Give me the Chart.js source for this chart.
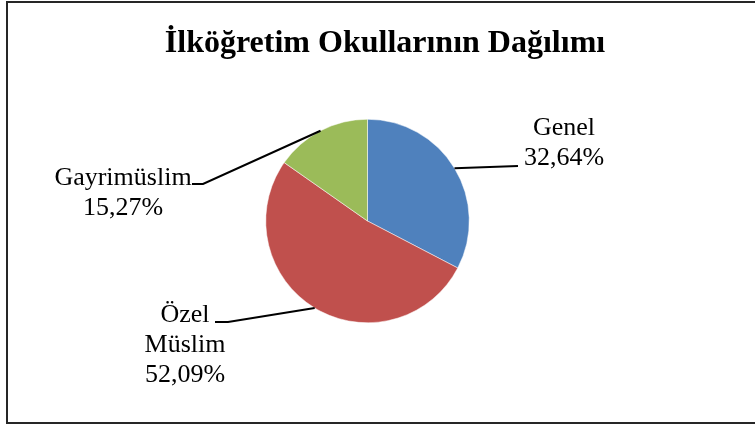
<!DOCTYPE html>
<html>
<head>
<meta charset="utf-8">
<script src="https://cdn.jsdelivr.net/npm/chart.js@4/dist/chart.umd.min.js"></script>
<style>
  body { margin: 0; background: #fff; }
  #wrap { width: 755px; height: 425px; }
</style>
</head>
<body>
<div id="wrap"><canvas id="pieChart" width="755" height="425"></canvas></div>
<script>
const chartTitle = "İlköğretim Okullarının Dağılımı";
const categories = ["Genel", "Özel Müslim", "Gayrimüslim"];
const shares = [32.64, 52.09, 15.27];
const sliceColors = ["#4F81BD", "#C0504D", "#9BBB59"];

// where each data label sits and how its leader line bends
const labelLayout = [
  { x: 564, y: 128, split: false, path: [[518, 166]] },
  { x: 185, y: 315, split: true, path: [[228, 322], [215, 322]] },
  { x: 123, y: 178, split: false, path: [[203, 184], [192, 184]] }
];

const fmtPct = v => v.toFixed(2).replace(".", ",") + "%";

const frameAndLabels = {
  id: "frameAndLabels",
  beforeDraw(chart) {
    const ctx = chart.ctx;
    ctx.save();
    ctx.fillStyle = "#fff";
    ctx.fillRect(0, 0, chart.width, chart.height);
    ctx.strokeStyle = "#262626";
    ctx.lineWidth = 2;
    ctx.strokeRect(7, 2, 760, 421);
    ctx.restore();
  },
  afterDraw(chart) {
    const ctx = chart.ctx;
    ctx.save();
    ctx.fillStyle = "#000";
    ctx.textAlign = "center";
    ctx.textBaseline = "alphabetic";
    ctx.font = "bold 32px 'Liberation Serif', 'Times New Roman', serif";
    ctx.fillText(chartTitle, 385, 52);

    const arcs = chart.getDatasetMeta(0).data;
    ctx.font = "26px 'Liberation Serif', 'Times New Roman', serif";
    ctx.textBaseline = "middle";
    arcs.forEach((arc, i) => {
      const p = arc.getProps(["x", "y", "startAngle", "endAngle", "outerRadius"], true);
      const mid = (p.startAngle + p.endAngle) / 2;
      const sx = p.x + Math.cos(mid) * p.outerRadius;
      const sy = p.y + Math.sin(mid) * p.outerRadius;
      const lay = labelLayout[i];
      ctx.strokeStyle = "#000";
      ctx.lineWidth = 2;
      ctx.beginPath();
      ctx.moveTo(sx, sy);
      lay.path.forEach(pt => ctx.lineTo(pt[0], pt[1]));
      ctx.stroke();
      const lines = lay.split ? categories[i].split(" ") : [categories[i]];
      lines.push(fmtPct(shares[i]));
      lines.forEach((t, k) => ctx.fillText(t, lay.x, lay.y + k * 30));
    });
    ctx.restore();
  }
};

new Chart(document.getElementById("pieChart"), {
  type: "pie",
  data: {
    labels: categories,
    datasets: [{
      data: shares,
      backgroundColor: sliceColors,
      borderColor: "#fff",
      borderWidth: 0.5
    }]
  },
  options: {
    responsive: false,
    animation: false,
    devicePixelRatio: 1,
    layout: { padding: { left: 265, right: 285, top: 119, bottom: 102 } },
    plugins: {
      legend: { display: false },
      tooltip: { enabled: false },
      title: { display: false }
    }
  },
  plugins: [frameAndLabels]
});
</script>
</body>
</html>
